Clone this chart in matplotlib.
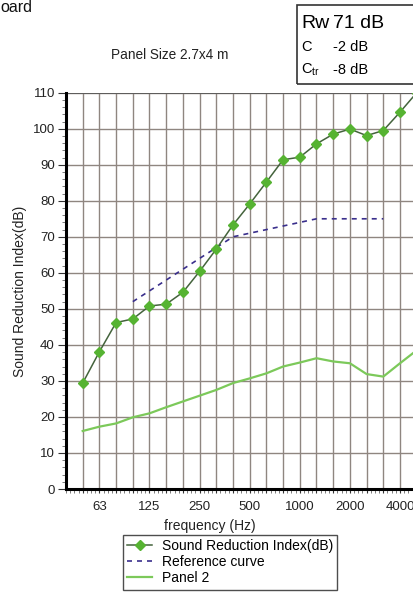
import matplotlib.pyplot as plt
import numpy as np
from matplotlib.ticker import MultipleLocator

plt.rcParams['font.family'] = ['Liberation Sans', 'DejaVu Sans']

# third-octave bands
freqs = [50, 63, 80, 100, 125, 160, 200, 250, 315, 400, 500, 630, 800,
         1000, 1250, 1600, 2000, 2500, 3150, 4000, 5000]
octave_labels = ['63', '125', '250', '500', '1000', '2000', '4000']

sri = [29.4, 38.1, 46.2, 47.2, 50.8, 51.3, 54.6, 60.4, 66.6, 73.3, 79.1,
       85.2, 91.4, 92.1, 95.8, 98.5, 99.9, 98.1, 99.5, 104.6, 110.0]
ref_freqs = [100, 125, 160, 200, 250, 315, 400, 500, 630, 800, 1000,
             1250, 1600, 2000, 2500, 3150]
ref_curve = [52, 55, 58, 61, 64, 67, 70, 71, 72, 73, 74, 75, 75, 75, 75, 75]
panel2 = [16.1, 17.3, 18.2, 19.9, 21.0, 22.7, 24.3, 25.9, 27.5, 29.4, 30.7,
          32.1, 34.0, 35.1, 36.3, 35.4, 34.9, 31.9, 31.2, 34.9, 38.5]

pos = np.arange(len(freqs))
ref_pos = [freqs.index(f) for f in ref_freqs]

W, H = 414, 599
fig = plt.figure(figsize=(W / 100, H / 100), dpi=100)
ax = fig.add_axes([66 / W, 110 / H, 22 * 16.7 / W, 396.3 / H])

grid_c = '#8f8680'
line_sri, = ax.plot(pos, sri, color='#44633c', lw=1.1, marker='D', ms=5,
                    mfc='#56b332', mec='#56b332', label='Sound Reduction Index(dB)', zorder=4)
line_ref, = ax.plot(ref_pos, ref_curve, color='#3a2f8c', lw=1.2, ls=(0, (3, 3)),
                    label='Reference curve', zorder=3)
line_p2, = ax.plot(pos, panel2, color='#7cc95a', lw=1.6, label='Panel 2', zorder=3)

ax.set_xlim(-1, 21)
ax.set_ylim(0, 110)
ax.set_xticks(pos)
ax.set_xticklabels([str(f) if str(f) in octave_labels else '' for f in freqs])
ax.xaxis.set_minor_locator(MultipleLocator(0.25))
ax.set_yticks(np.arange(0, 111, 10))
ax.yaxis.set_minor_locator(MultipleLocator(2))
ax.grid(True, which='major', color=grid_c, lw=1.0)
ax.tick_params(axis='both', which='major', labelsize=9.5, colors='#333333',
               labelcolor='#222222')
ax.tick_params(axis='x', which='major', length=3, pad=6)
ax.tick_params(axis='x', which='minor', length=3, color='#666666')
ax.tick_params(axis='y', which='major', length=6, pad=2)
ax.tick_params(axis='y', which='minor', length=3, color='#666666')
for s in ['top', 'right']:
    ax.spines[s].set_visible(False)
ax.axhline(110, color='#555555', lw=1.2, zorder=2)
for s in ['left', 'bottom']:
    ax.spines[s].set_linewidth(2.2)
    ax.spines[s].set_color('black')

fig.text(20 / W, 1 - 291 / H, 'Sound Reduction Index(dB)', rotation=90,
         ha='center', va='center', fontsize=10, color='#222222')
fig.text(210 / W, 1 - 526 / H, 'frequency (Hz)', ha='center', va='center',
         fontsize=10, color='#222222')
fig.text(170 / W, 1 - 55 / H, 'Panel Size 2.7x4 m', ha='center', va='center',
         fontsize=9.8, color='#222222')
fig.text(0, 1 - 7 / H, 'oard', ha='left', va='center', fontsize=11.5,
         color='#111111')

# Rw box
box = plt.Rectangle((297 / W, 1 - 84 / H), 130 / W, 79 / H, transform=fig.transFigure,
                    fill=False, ec='#333333', lw=1.2)
fig.add_artist(box)
fig.text(301 / W, 1 - 23 / H, 'Rw', ha='left', va='center', fontsize=14)
fig.text(333 / W, 1 - 23 / H, '71 dB', ha='left', va='center', fontsize=14)
fig.text(301 / W, 1 - 47 / H, 'C', ha='left', va='center', fontsize=10.5)
fig.text(333 / W, 1 - 47 / H, '-2 dB', ha='left', va='center', fontsize=10.5)
fig.text(301 / W, 1 - 70 / H, r'C$_{\mathregular{tr}}$', ha='left', va='center', fontsize=10.5)
fig.text(333 / W, 1 - 70 / H, '-8 dB', ha='left', va='center', fontsize=10.5)

leg = fig.legend(handles=[line_sri, line_ref, line_p2], loc='upper left',
                 bbox_to_anchor=(123 / W, 1 - 535 / H), fontsize=10, frameon=True,
                 fancybox=False, edgecolor='#222222', borderpad=0.3, labelspacing=0.15,
                 handlelength=1.8, handletextpad=0.7, borderaxespad=0)
leg.get_frame().set_linewidth(1.0)

fig.savefig('out.png', dpi=100)
